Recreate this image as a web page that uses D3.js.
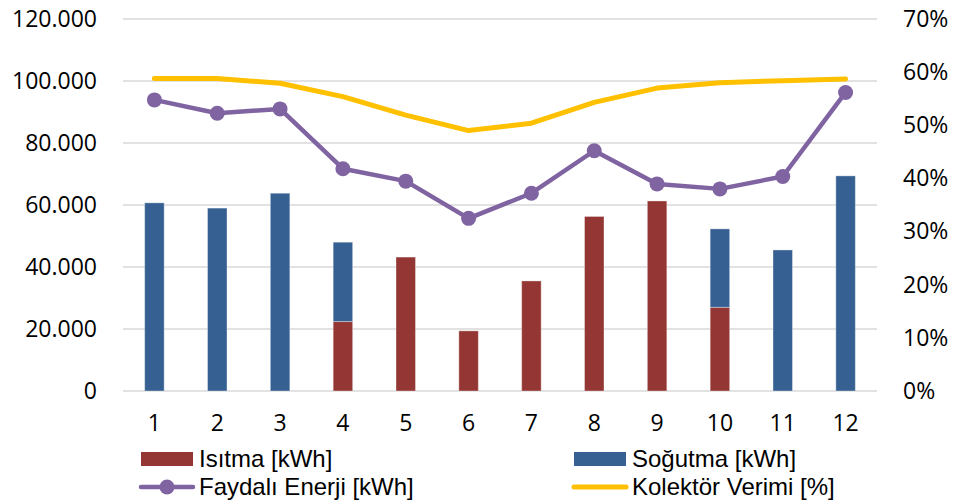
<!DOCTYPE html>
<html>
<head>
<meta charset="utf-8">
<script src="https://cdn.jsdelivr.net/npm/d3@7"></script>
<style>
  html, body { margin: 0; padding: 0; background: #fff; }
  svg { display: block; font-family: "Open Sans", "Noto Sans", sans-serif; }
</style>
</head>
<body>
<svg id="chart" width="954" height="502"></svg>
<script>
// Monthly data (1–12)
const months = ["1","2","3","4","5","6","7","8","9","10","11","12"];
const heating = [0, 0, 0, 22400, 43200, 19400, 35500, 56300, 61300, 27000, 0, 0];        // Isıtma [kWh]
const cooling = [60700, 59000, 63800, 25600, 0, 0, 0, 0, 0, 25300, 45500, 69400];         // Soğutma [kWh]
const usefulEnergy = [93900, 89600, 91000, 71700, 67700, 55700, 63800, 77500, 66800, 65200, 69200, 96300]; // Faydalı Enerji [kWh]
const efficiency = [58.8, 58.8, 57.9, 55.4, 51.9, 49.0, 50.4, 54.3, 57.0, 58.0, 58.4, 58.7]; // Kolektör Verimi [%]

const leftTicks = [0, 20000, 40000, 60000, 80000, 100000, 120000];
const rightTicks = [0, 10, 20, 30, 40, 50, 60, 70];

const colors = {
  heating: "#943634",
  cooling: "#366092",
  energy: "#8064A2",
  efficiency: "#FFC000",
  grid: "#D9D9D9",
  text: "#000"
};

const svg = d3.select("#chart");
const plot = { left: 123, right: 877, top: 19, bottom: 391 };

const x = d3.scaleBand()
  .domain(months)
  .range([plot.left, plot.right])
  .paddingInner(0.69)
  .paddingOuter(0.345);

const yL = d3.scaleLinear().domain([0, 120000]).range([plot.bottom, plot.top]);
const yR = d3.scaleLinear().domain([0, 70]).range([plot.bottom, plot.top]);

const fmtThousands = d3.formatLocale({ decimal: ",", thousands: ".", grouping: [3], currency: ["", ""] }).format(",.0f");

// Gridlines
svg.append("g")
  .selectAll("line")
  .data(leftTicks)
  .join("line")
  .attr("x1", plot.left).attr("x2", plot.right)
  .attr("y1", d => yL(d)).attr("y2", d => yL(d))
  .attr("stroke", colors.grid)
  .attr("stroke-width", 1.5);

// Left axis
const leftAxis = svg.append("g")
  .attr("transform", `translate(${plot.left},0)`)
  .call(d3.axisLeft(yL).tickValues(leftTicks).tickFormat(fmtThousands).tickSize(0).tickPadding(26));
leftAxis.select(".domain").remove();
leftAxis.selectAll("text").attr("font-size", 23).attr("fill", colors.text)
  .attr("font-family", "'Open Sans', sans-serif");

// Right axis
const rightAxis = svg.append("g")
  .attr("transform", `translate(${plot.right},0)`)
  .call(d3.axisRight(yR).tickValues(rightTicks).tickFormat(d => d + "%").tickSize(0).tickPadding(26));
rightAxis.select(".domain").remove();
rightAxis.selectAll("text").attr("font-size", 23).attr("fill", colors.text)
  .attr("font-family", "'Open Sans', sans-serif");

// Bottom axis (category labels)
const bottomAxis = svg.append("g")
  .attr("transform", `translate(0,${plot.bottom})`)
  .call(d3.axisBottom(x).tickSize(0).tickPadding(24));
bottomAxis.select(".domain").remove();
bottomAxis.selectAll("text").attr("font-size", 23).attr("fill", colors.text)
  .attr("font-family", "'Open Sans', sans-serif");

// Stacked bars
const rows = months.map((m, i) => ({ month: m, heating: heating[i], cooling: cooling[i] }));
const stack = d3.stack().keys(["heating", "cooling"])(rows);

svg.append("g")
  .selectAll("g")
  .data(stack)
  .join("g")
  .attr("fill", d => colors[d.key])
  .selectAll("rect")
  .data(d => d.filter(s => s[1] - s[0] > 0))
  .join("rect")
  .attr("x", d => x(d.data.month))
  .attr("width", x.bandwidth())
  .attr("y", d => yL(d[1]))
  .attr("height", d => yL(d[0]) - yL(d[1]))
  .attr("stroke", "rgba(255,255,255,0.35)")
  .attr("stroke-width", 1);

const cx = m => x(m) + x.bandwidth() / 2;

// Collector efficiency line (right axis)
svg.append("path")
  .datum(efficiency)
  .attr("fill", "none")
  .attr("stroke", colors.efficiency)
  .attr("stroke-width", 5)
  .attr("stroke-linejoin", "round")
  .attr("stroke-linecap", "round")
  .attr("d", d3.line().x((d, i) => cx(months[i])).y(d => yR(d)));

// Useful energy line with markers (left axis)
svg.append("path")
  .datum(usefulEnergy)
  .attr("fill", "none")
  .attr("stroke", colors.energy)
  .attr("stroke-width", 4.5)
  .attr("stroke-linejoin", "round")
  .attr("d", d3.line().x((d, i) => cx(months[i])).y(d => yL(d)));

svg.append("g")
  .selectAll("circle")
  .data(usefulEnergy)
  .join("circle")
  .attr("cx", (d, i) => cx(months[i]))
  .attr("cy", d => yL(d))
  .attr("r", 7.5)
  .attr("fill", colors.energy);

// Legend
const legend = svg.append("g")
  .attr("font-size", 24)
  .attr("font-family", "'Liberation Sans', Arial, sans-serif")
  .attr("fill", colors.text);
const legendItems = [
  { label: "Isıtma [kWh]", type: "rect", color: colors.heating, x: 141, y: 459 },
  { label: "Soğutma [kWh]", type: "rect", color: colors.cooling, x: 574, y: 459 },
  { label: "Faydalı Enerji [kWh]", type: "marker", color: colors.energy, x: 141, y: 487 },
  { label: "Kolektör Verimi [%]", type: "line", color: colors.efficiency, x: 574, y: 487 }
];
legendItems.forEach(it => {
  const g = legend.append("g");
  if (it.type === "rect") {
    g.append("rect").attr("x", it.x).attr("y", it.y - 7).attr("width", 52).attr("height", 14).attr("fill", it.color);
  } else {
    g.append("line").attr("x1", it.x).attr("x2", it.x + 52).attr("y1", it.y).attr("y2", it.y)
      .attr("stroke", it.color).attr("stroke-width", it.type === "marker" ? 4.5 : 5)
      .attr("stroke-linecap", "round");
    if (it.type === "marker") {
      g.append("circle").attr("cx", it.x + 26).attr("cy", it.y).attr("r", 7.5).attr("fill", it.color);
    }
  }
  g.append("text").attr("x", it.x + 58).attr("y", it.y).attr("dy", "0.35em").text(it.label);
});
</script>
</body>
</html>
